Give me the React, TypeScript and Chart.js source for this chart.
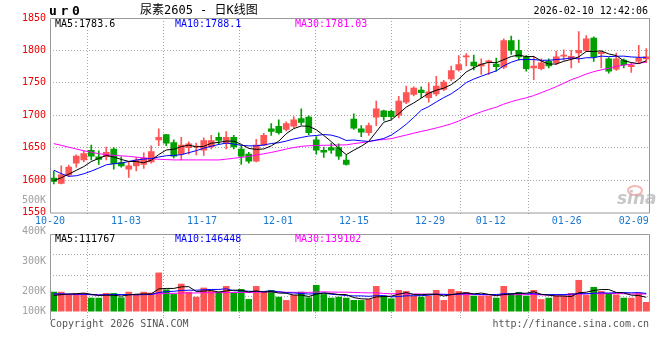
import React, { useEffect, useRef } from 'react';
import { Chart, registerables } from 'chart.js';
Chart.register(...registerables);

// ---------- data ----------
const DATES = [
  '10-20','10-21','10-22','10-23','10-24','10-27','10-28','10-29','10-30','10-31',
  '11-03','11-04','11-05','11-06','11-07','11-10','11-11','11-12','11-13','11-14',
  '11-17','11-18','11-19','11-20','11-21','11-24','11-25','11-26','11-27','11-28',
  '12-01','12-02','12-03','12-04','12-05','12-08','12-09','12-10','12-11','12-12',
  '12-15','12-16','12-17','12-18','12-19','12-22','12-23','12-24','12-25','12-26',
  '12-29','12-30','12-31','01-05','01-06','01-07','01-08','01-09',
  '01-12','01-13','01-14','01-15','01-16','01-19','01-20','01-21','01-22','01-23',
  '01-26','01-27','01-28','01-29','01-30','02-02','02-03','02-04','02-05','02-06',
  '02-09','02-10',
];
const OPEN = [
  1603,1595,1608,1626,1631,1646,1636,1636,1648,1627,
  1617,1622,1624,1628,1662,1670,1658,1640,1650,1651,
  1646,1651,1666,1657,1666,1648,1640,1629,1654,1679,
  1683,1678,1683,1695,1697,1662,1646,1650,1650,1631,
  1694,1679,1673,1697,1707,1706,1700,1720,1732,1739,
  1727,1733,1740,1756,1770,1790,1782,1776,1782,1779,
  1774,1815,1800,1790,1773,1772,1783,1781,1791,1787,
  1796,1800,1819,1795,1787,1771,1785,1775,1783,1787,
];
const HIGH = [
  1614,1622,1623,1639,1645,1654,1645,1651,1650,1636,
  1629,1635,1642,1653,1679,1670,1662,1666,1659,1657,
  1665,1669,1673,1675,1669,1653,1643,1663,1672,1687,
  1693,1690,1698,1710,1699,1667,1651,1657,1656,1638,
  1702,1684,1688,1722,1708,1708,1729,1745,1744,1744,
  1750,1760,1754,1776,1792,1795,1793,1787,1785,1788,
  1818,1822,1816,1792,1791,1787,1787,1799,1801,1800,
  1829,1823,1821,1799,1789,1796,1787,1781,1808,1803,
];
const LOW = [
  1594,1594,1606,1620,1628,1631,1624,1631,1617,1620,
  1604,1614,1618,1626,1653,1653,1634,1631,1640,1639,
  1638,1648,1655,1648,1648,1624,1626,1628,1653,1669,
  1671,1676,1681,1685,1670,1640,1635,1641,1632,1623,
  1678,1667,1669,1684,1692,1694,1696,1718,1730,1727,
  1720,1730,1738,1753,1768,1776,1770,1763,1763,1768,
  1772,1794,1785,1768,1755,1770,1773,1778,1785,1773,
  1781,1798,1783,1773,1765,1769,1773,1766,1781,1781,
];
const CLOSE = [
  1598,1608,1620,1637,1641,1637,1632,1643,1625,1622,
  1622,1631,1634,1644,1666,1657,1637,1654,1656,1652,
  1661,1661,1661,1666,1651,1637,1629,1654,1669,1675,
  1673,1687,1693,1689,1673,1646,1643,1646,1637,1624,
  1680,1674,1684,1710,1698,1698,1722,1735,1742,1735,
  1736,1745,1751,1769,1778,1791,1776,1779,1784,1775,
  1815,1800,1790,1772,1776,1781,1776,1790,1793,1791,
  1800,1818,1790,1797,1768,1787,1778,1777,1788,1790,
];
const VOLUME = [
  163200,162800,143500,151900,152400,112300,111800,152600,151700,115400,
  163100,143200,162900,155300,327400,183100,143300,231800,162700,120400,
  198200,171900,163400,212100,155200,186300,100400,211800,163200,178100,
  120300,92100,135200,162800,115300,221400,143100,112200,120100,111900,
  92300,91800,100200,212300,129100,106200,178300,169100,128800,120200,
  129300,178200,92200,186100,168900,161200,129200,128900,129100,112300,
  212200,151900,161100,129300,178100,100300,112100,129200,128900,152100,
  264300,135100,204200,168900,152300,140100,112200,111900,152200,75300,
];
// history before the first visible bar (feeds the moving averages only)
const PRIOR_CLOSE = [
  1690,1703,1720,1724,1705,1700,1681,1663,1645,1645,
  1669,1672,1674,1696,1672,1652,1654,1656,1652,1661,
  1663,1661,1628,1611,1596,1585,1592,1608,1612,
];
const PRIOR_VOLUME = [
  128000,142000,150000,121000,133000,160000,138000,117000,129000,145000,
  152000,126000,131000,140000,118000,135000,149000,127000,138000,131000,
  170000,158000,176000,149000,162000,131000,119000,140000,122000,
];
const PRICE_TICKS = [1550, 1600, 1650, 1700, 1750, 1800, 1850];
const LABEL_INDEX = [0, 10, 20, 30, 40, 50, 58, 68, 78];
const GRID_INDEX = [10, 20, 30, 40, 50, 58, 68];
const VOL_AXIS_LABELS = ['500K', '400K', '300K', '200K', '100K'];
const PRICE_LEGEND = ['MA5:1783.6', 'MA10:1788.1', 'MA30:1781.03'];
const VOL_LEGEND = ['MA5:111767', 'MA10:146448', 'MA30:139102'];
const TITLE = '尿素2605 - 日K线图';
const CODE = 'ur0';
const TIME = '2026-02-10 12:42:06';

// ---------- style ----------
const MONO = '"DejaVu Sans Mono", "Liberation Mono", monospace';
const UP = '#ff5555';
const DOWN = '#00a000';
const GRID = '#a8a8a8';
const FRAME = '#999999';
const MA_COLORS = ['#000000', '#0000ff', '#ff00ff'];
const GRID_SPAN = 78.95; // label grid step is slightly wider than bar step
const VMIN = -50000;
const VMAX = 660000;
const DOTS = [1, 2];

function movingAvg(prior: number[], vals: number[], n: number) {
  const all = prior.concat(vals);
  const off = prior.length;
  return vals.map((_, i) => {
    let s = 0;
    for (let k = 0; k < n; k++) s += all[off + i - k];
    return s / n;
  });
}

const colors = CLOSE.map((c, i) => (c >= OPEN[i] ? UP : DOWN));

const framePlugin = (kind: 'price' | 'vol') => ({
  id: 'frame_' + kind,
  afterDraw(chart: any) {
    const { ctx, chartArea: a } = chart;
    ctx.save();
    ctx.strokeStyle = FRAME;
    ctx.lineWidth = 1;
    ctx.beginPath();
    if (kind === 'price') {
      ctx.rect(a.left + 0.5, a.top + 0.5, a.right - a.left - 1, a.bottom - a.top);
    } else {
      const zero = Math.round(chart.scales.y.getPixelForValue(0));
      ctx.moveTo(a.left + 0.5, a.bottom + 3);
      ctx.lineTo(a.left + 0.5, a.top + 0.5);
      ctx.lineTo(a.right - 0.5, a.top + 0.5);
      ctx.lineTo(a.right - 0.5, zero);
    }
    ctx.stroke();
    ctx.restore();
  },
});

function xgAxis(showLabels: boolean, height: number) {
  return {
    type: 'linear',
    position: 'bottom',
    min: 0,
    max: GRID_SPAN,
    offset: false,
    afterBuildTicks: (s: any) => {
      s.ticks = LABEL_INDEX.map((v) => ({ value: v }));
    },
    afterFit: (s: any) => {
      s.height = height;
      s.paddingLeft = 0;
      s.paddingRight = 0;
    },
    ticks: {
      display: showLabels,
      autoSkip: false,
      maxRotation: 0,
      padding: 0,
      color: '#1a78d0',
      font: { family: MONO, size: 10 },
      callback: (v: number) => {
        const i = LABEL_INDEX.indexOf(v);
        if (i < 0) return '';
        const d = DATES[v];
        return i === LABEL_INDEX.length - 1 ? d + '   ' : d;
      },
    },
    grid: {
      color: (c: any) => (c.tick && GRID_INDEX.includes(c.tick.value) ? GRID : 'rgba(0,0,0,0)'),
      tickColor: (c: any) => (c.tick && GRID_INDEX.includes(c.tick.value) ? GRID : 'rgba(0,0,0,0)'),
      tickLength: 3,
      tickBorderDash: DOTS,
      drawTicks: true,
      lineWidth: 1,
    },
    border: { display: false, dash: DOTS },
  };
}

function maLines(prior: number[], vals: number[]) {
  return [5, 10, 30].map((n, k) => ({
    type: 'line',
    label: 'MA' + n,
    data: movingAvg(prior, vals, n).map((v, i) => ({ x: i, y: v })),
    borderColor: MA_COLORS[k],
    borderWidth: 1,
    pointRadius: 0,
    tension: 0,
    order: 0,
    xAxisID: 'x',
    yAxisID: 'y',
  }));
}

function priceConfig(): any {
  return {
    type: 'bar',
    data: {
      datasets: [
        ...maLines(PRIOR_CLOSE, CLOSE),
        {
          type: 'bar',
          label: 'body',
          data: OPEN.map((o, i) => ({ x: i, y: [o, CLOSE[i]] })),
          backgroundColor: colors,
          barThickness: 6,
          minBarLength: 1,
          grouped: false,
          borderWidth: 0,
          order: 1,
          xAxisID: 'x',
          yAxisID: 'y',
        },
        {
          type: 'bar',
          label: 'wick',
          data: LOW.map((l, i) => ({ x: i, y: [l, HIGH[i]] })),
          backgroundColor: colors,
          barThickness: 1,
          grouped: false,
          borderWidth: 0,
          order: 2,
          xAxisID: 'x',
          yAxisID: 'y',
        },
      ],
    },
    options: {
      animation: false,
      responsive: false,
      maintainAspectRatio: false,
      events: [],
      layout: { padding: { top: 18, right: 10, left: 0, bottom: 0 } },
      plugins: { legend: { display: false }, tooltip: { enabled: false } },
      scales: {
        x: { type: 'linear', min: -0.5, max: CLOSE.length - 0.5, display: false, offset: false },
        xg: xgAxis(true, 17.5),
        y: {
          type: 'linear',
          position: 'left',
          min: 1550,
          max: 1850,
          afterBuildTicks: (s: any) => {
            s.ticks = PRICE_TICKS.map((v) => ({ value: v }));
          },
          afterFit: (s: any) => {
            s.width = 50;
          },
          ticks: {
            color: '#ee0000',
            font: { family: MONO, size: 10 },
            padding: 4,
            callback: (v: number) => String(v),
          },
          grid: {
            color: (c: any) => (c.tick && c.tick.value > 1550 && c.tick.value < 1850 ? GRID : 'rgba(0,0,0,0)'),
            drawTicks: false,
            lineWidth: 1,
          },
          border: { display: false, dash: DOTS },
        },
      },
    },
    plugins: [framePlugin('price')],
  };
}

function volConfig(): any {
  return {
    type: 'bar',
    data: {
      datasets: [
        ...maLines(PRIOR_VOLUME, VOLUME),
        {
          type: 'bar',
          label: 'vol',
          data: VOLUME.map((v, i) => ({ x: i, y: v })),
          backgroundColor: colors,
          barThickness: 6,
          grouped: false,
          borderWidth: 0,
          order: 1,
          xAxisID: 'x',
          yAxisID: 'y',
        },
      ],
    },
    options: {
      animation: false,
      responsive: false,
      maintainAspectRatio: false,
      events: [],
      layout: { padding: { top: 6, right: 10, left: 0, bottom: 40 } },
      plugins: { legend: { display: false }, tooltip: { enabled: false } },
      scales: {
        x: { type: 'linear', min: -0.5, max: VOLUME.length - 0.5, display: false, offset: false },
        xg: xgAxis(false, 3),
        y: {
          type: 'linear',
          position: 'left',
          min: VMIN,
          max: VMAX,
          afterBuildTicks: (s: any) => {
            s.ticks = [0, 1, 2, 3, 4].map((k) => ({ value: VMIN + (k * (VMAX - VMIN)) / 4 }));
          },
          afterFit: (s: any) => {
            s.width = 50;
          },
          ticks: { display: false },
          grid: {
            color: (c: any) => (c.index > 0 && c.index < 4 ? GRID : 'rgba(0,0,0,0)'),
            drawTicks: false,
            lineWidth: 1,
          },
          border: { display: false, dash: DOTS },
        },
      },
    },
    plugins: [framePlugin('vol')],
  };
}

const txt = (extra: React.CSSProperties): React.CSSProperties => ({
  position: 'absolute',
  fontFamily: MONO,
  fontSize: 10,
  lineHeight: '12px',
  whiteSpace: 'pre',
  ...extra,
});

export default function App() {
  const pRef = useRef<HTMLCanvasElement>(null);
  const vRef = useRef<HTMLCanvasElement>(null);
  useEffect(() => {
    const pc = new Chart(pRef.current as HTMLCanvasElement, priceConfig());
    const vc = new Chart(vRef.current as HTMLCanvasElement, volConfig());
    return () => {
      pc.destroy();
      vc.destroy();
    };
  }, []);

  const volLabelTops = [194, 224.5, 254.5, 285, 305];
  return (
    <div style={{ position: 'fixed', left: 0, top: 0, width: 660, height: 360, background: '#fff', overflow: 'hidden' }}>
      <canvas ref={pRef} width={660} height={230} style={{ position: 'absolute', left: 0, top: 0, width: 660, height: 230 }} />
      <canvas ref={vRef} width={660} height={132} style={{ position: 'absolute', left: 0, top: 228, width: 660, height: 132 }} />

      <div style={txt({ left: 49, top: 3, fontSize: 13, lineHeight: '15px', fontWeight: 'bold', letterSpacing: '3.7px', color: '#000' })}>{CODE}</div>
      <div style={txt({ left: 140, top: 4, fontSize: 12, lineHeight: '13px', fontFamily: '"DejaVu Sans Mono", "Noto Sans CJK SC", monospace', color: '#000' })}>{TITLE}</div>
      <div style={txt({ right: 12, top: 5, color: '#000' })}>{TIME}</div>

      {PRICE_LEGEND.map((t, i) => (
        <div key={'pl' + i} style={txt({ left: 55 + i * 120, top: 18, color: MA_COLORS[i] })}>{t}</div>
      ))}
      {VOL_LEGEND.map((t, i) => (
        <div key={'vl' + i} style={txt({ left: 55 + i * 120, top: 232.5, color: MA_COLORS[i] })}>{t}</div>
      ))}

      {VOL_AXIS_LABELS.map((t, i) => (
        <div key={'va' + i} style={txt({ left: 0, width: 46, textAlign: 'right', top: volLabelTops[i], color: '#a0a0a0' })}>{t}</div>
      ))}

      <div style={{ position: 'absolute', left: 627, top: 185, width: 12, height: 7, borderRadius: '50%', border: '2px solid rgba(240,110,110,0.5)' }} />
      <div style={txt({ left: 617, top: 189, fontSize: 17, lineHeight: '18px', fontFamily: '"DejaVu Sans", sans-serif', fontStyle: 'italic', fontWeight: 'bold', color: 'rgba(175,175,175,0.7)' })}>sina</div>

      <div style={txt({ left: 50, top: 318, color: '#555' })}>Copyright 2026 SINA.COM</div>
      <div style={txt({ right: 11, top: 318, color: '#555' })}>http://finance.sina.com.cn</div>
    </div>
  );
}
